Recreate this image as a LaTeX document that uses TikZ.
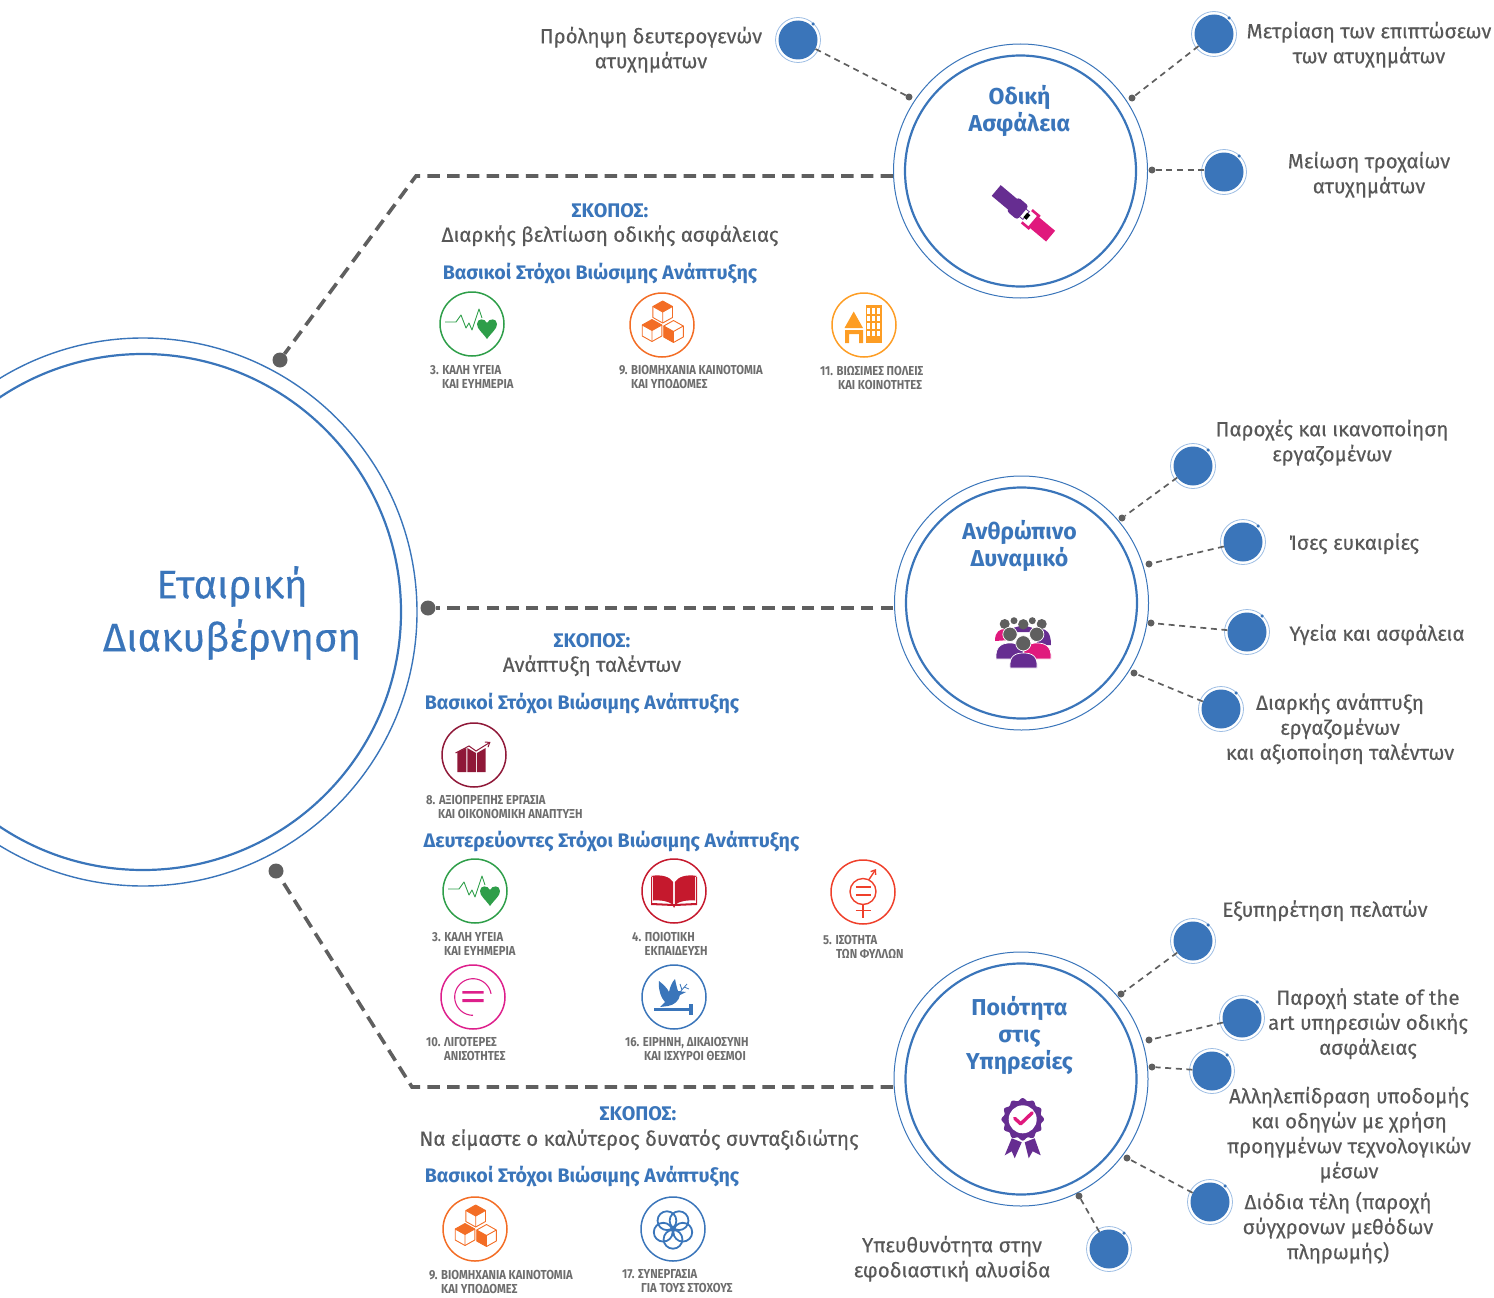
\documentclass[tikz,border=0pt]{standalone}
\usepackage{fontspec}
\setmainfont{Fira Sans}
\newfontfamily\smallf[FakeStretch=0.866]{Fira Sans}
\newfontfamily\labelf[FakeBold=0.25]{Fira Sans}
\usetikzlibrary{arrows.meta,calc}
\definecolor{mblue}{HTML}{3A75BA}
\definecolor{lblue}{HTML}{9DBDE3}
\definecolor{mgrey}{HTML}{5F5F5F}
\definecolor{tgrey}{HTML}{585858}
\definecolor{sgrey}{HTML}{6E6E6E}
\definecolor{sgreen}{HTML}{2E9E49}
\definecolor{sorange}{HTML}{F36D25}
\definecolor{samber}{HTML}{FD9D24}
\definecolor{smaroon}{HTML}{8F1838}
\definecolor{sred}{HTML}{C5192D}
\definecolor{sredor}{HTML}{EF402B}
\definecolor{smag}{HTML}{DD1F8B}
\definecolor{ppl}{HTML}{662D91}
\definecolor{pnk}{HTML}{E0197D}
\tikzset{
  x=1pt,y=-1pt,
  bigout/.style={circle,draw=mblue,line width=1.4pt,inner sep=0,minimum size=548pt},
  bigin/.style={circle,draw=mblue,line width=2.2pt,inner sep=0,minimum size=516pt},
  hubout/.style={circle,draw=mblue,line width=1pt,inner sep=0,minimum size=254pt},
  hubin/.style={circle,draw=mblue,line width=2.2pt,inner sep=0,minimum size=231pt},
  bullet/.style={circle,fill=mblue,inner sep=0,minimum size=39pt},
  halo/.style={circle,draw=lblue,line width=.8pt,inner sep=0,minimum size=45pt},
  pip/.style={circle,fill=mblue,inner sep=0,minimum size=3.5pt},
  enddot/.style={circle,fill=mgrey,inner sep=0,minimum size=#1},
  enddot/.default=7pt,
  thin dash/.style={draw=mgrey,line width=1.7pt,dash pattern=on 6pt off 4.6pt},
  thick dash/.style={draw=mgrey,line width=3.6pt,dash pattern=on 12.5pt off 7.2pt},
  label/.style={font=\fontsize{20.5}{25}\selectfont\labelf,text=tgrey,align=center,inner sep=0,yshift=-.7pt},
  title/.style={font=\fontsize{23}{27}\selectfont\bfseries,text=mblue,align=center,inner sep=0,yshift=-1.2pt},
  aim/.style={font=\fontsize{19.7}{23}\selectfont\bfseries,text=mblue,inner sep=0,yshift=-.7pt},
  goal/.style={font=\fontsize{19.6}{23}\selectfont\bfseries,text=mblue,inner sep=0,yshift=-1.2pt},
  tiny/.style={font=\fontsize{13}{13.4}\selectfont\smallf\bfseries,text=sgrey,align=left,anchor=west,inner sep=0},
  icring/.style={circle,line width=1.5pt,inner sep=0,minimum size=64pt},
}
\newcommand{\spot}[3]{%
  \node[halo] at (#2,#3) {};
  \node[bullet] (#1) at (#2,#3) {};
  \node[pip] at ($(#2,#3)+(15,-16)$) {};}
\newcommand{\icHeart}[2]{\begin{scope}[shift={(#1,#2)}]
  \node[icring,draw=sgreen] {};
  \draw[sgreen,line width=.9pt,line join=round] (-27,-2) -- (-16,-2) -- (-11,-9) -- (-6,4) -- (-3,-1) -- (0,6) -- (7,-15) -- (10,-6);
  \fill[sgreen] (15,15) .. controls (10,8) and (5,5) .. (5,0) .. controls (5,-6) and (13,-6) .. (15,-1) .. controls (17,-6) and (25,-6) .. (25,0) .. controls (25,5) and (20,8) .. (15,15);
\end{scope}}
\newcommand{\cube}[3]{\begin{scope}[shift={(#1,#2)}]
  \draw[sorange,line width=.9pt,fill=white,line join=round] (0,-11) -- (9.8,-5.5) -- (9.8,5.5) -- (0,11) -- (-9.8,5.5) -- (-9.8,-5.5) -- cycle;
  \draw[sorange,line width=.9pt] (-9.8,-5.5) -- (0,0) -- (9.8,-5.5) (0,0) -- (0,11);
  \ifnum#3=1 \fill[sorange] (0,-11) -- (9.8,-5.5) -- (0,0) -- (-9.8,-5.5) -- cycle;\fi
  \ifnum#3=2 \fill[sorange] (-9.8,-5.5) -- (0,0) -- (0,11) -- (-9.8,5.5) -- cycle;\fi
\end{scope}}
\newcommand{\icCubes}[2]{\begin{scope}[shift={(#1,#2)}]
  \node[icring,draw=sorange] {};
  \cube{0.7}{-13}{1}
  \cube{-10}{5.5}{1}
  \cube{11.5}{6.5}{2}
\end{scope}}
\newcommand{\icCity}[2]{\begin{scope}[shift={(#1,#2)}]
  \node[icring,draw=samber] {};
  \fill[samber] (-10.3,-13.5) -- (-19.5,3) -- (-1,3) -- cycle;
  \fill[samber] (-19,5) -- (-1,5) -- (-1,18) -- (-5,18) -- (-5,9) -- (-15,9) -- (-15,18) -- (-19,18) -- cycle;
  \fill[samber] (1.7,-20) rectangle (18.3,18);
  \foreach \r in {-17,-9.5,-2,5.5} \foreach \c in {4,9,14}
    \fill[white] (\c-1.4,\r) rectangle (\c+1.6,\r+5.8);
\end{scope}}
\newcommand{\icChart}[2]{\begin{scope}[shift={(#1,#2)}]
  \node[icring,draw=smaroon] {};
  \fill[smaroon] (-16.7,-3) -- (-7.7,-7) -- (-7.7,17) -- (-16.7,17) -- cycle;
  \fill[smaroon] (-6.7,-7) -- (2,-2) -- (2,17) -- (-6.7,17) -- cycle;
  \fill[smaroon] (3,-2) -- (11.7,-7) -- (11.7,17) -- (3,17) -- cycle;
  \draw[smaroon,line width=1pt,-{Straight Barb[length=4pt,width=6pt]}] (-18.5,-2) -- (-5,-9) -- (2,-4) -- (16.5,-13);
\end{scope}}
\newcommand{\icBook}[2]{\begin{scope}[shift={(#1,#2)}]
  \node[icring,draw=sred] {};
  \fill[sred] (-23,-15) .. controls (-12,-17) and (-4,-14) .. (-.8,-9) -- (-.8,14) .. controls (-5,10) and (-13,9) .. (-21,9.5) -- (-21,-14) -- cycle;
  \fill[sred] (23,-15) .. controls (12,-17) and (4,-14) .. (.8,-9) -- (.8,14) .. controls (5,10) and (13,9) .. (21,9.5) -- (21,-14) -- cycle;
  \fill[sred] (-23,-14) -- (-23,14) -- (-1,15) -- (0,17) -- (1,15) -- (23,14) -- (23,-14) -- (22,-14) -- (22,12) -- (1,13) -- (-1,13) -- (-22,12) -- (-22,-14) -- cycle;
\end{scope}}
\newcommand{\icGender}[2]{\begin{scope}[shift={(#1,#2)}]
  \node[icring,draw=sredor] {};
  \draw[sredor,line width=1.4pt] (0,-.5) circle (13);
  \draw[sredor,line width=1.6pt] (-7.5,-5) -- (7.5,-5) (-7.5,2.7) -- (7.5,2.7);
  \draw[sredor,line width=1.4pt,-{Straight Barb[length=4pt,width=6pt]}] (6,-12.5) -- (13,-23);
  \draw[sredor,line width=1.6pt] (0,12.5) -- (0,26) (-7.5,18.5) -- (7.5,18.5);
\end{scope}}
\newcommand{\icEqual}[2]{\begin{scope}[shift={(#1,#2)}]
  \node[icring,draw=smag] {};
  \draw[smag,line width=1.1pt] plot[domain=90:350,samples=40,smooth] (\x:18.3);
  \fill[smag] (-10.6,-6) rectangle (10.6,-3.4) (-10.6,2.2) rectangle (10.6,5);
\end{scope}}
\newcommand{\icDove}[2]{\begin{scope}[shift={(#1,#2)}]
  \node[icring,draw=mblue] {};
  \fill[mblue] (-20.5,11) rectangle (19,14);
  \fill[mblue] (14.5,7) rectangle (19,17.5);
  \fill[mblue] (-15,-16) .. controls (-10,-12) and (-7,-9) .. (-5,-5) .. controls (-4,-10) and (-2,-15) .. (1,-18) .. controls (2,-13) and (3,-9) .. (4,-6) -- (12,-5) -- (6,-2) .. controls (5,4) and (0,8) .. (-6,9) -- (-14,10) -- (-9,5) .. controls (-13,1) and (-16,-8) .. (-15,-16) -- cycle;
  \draw[mblue,line width=.8pt] (6,-5) -- (13,-13) (8,-7) -- (6,-13) (10,-10) -- (15,-8);
\end{scope}}
\newcommand{\icFlower}[2]{\begin{scope}[shift={(#1,#2)}]
  \node[icring,draw=mblue] {};
  \foreach \a in {90,162,234,306,18}
    \draw[mblue,line width=1.8pt] (\a:10.3) circle (9.4);
  \fill[mblue] (0,0) circle (2.6);
\end{scope}}
\begin{document}
\begin{tikzpicture}
\useasboundingbox (0,0) rectangle (1494,1298);
\clip (0,0) rectangle (1494,1298);
% big circle
\node[bigout] (B) at (143,612) {};
\node[bigin] (Bi) at (143,612) {};
\node[font=\fontsize{40}{53}\selectfont\labelf,text=mblue,align=center,inner sep=0,yshift=-1pt] (Btext) at (232,612) {Εταιρική\\Διακυβέρνηση};
% hubs
\node[hubout] (H1) at (1020.5,171) {};
\node[hubin] (H1i) at (1020.5,171) {};
\node[hubout] (H2) at (1021.5,603) {};
\node[hubin] (H2i) at (1021.5,603) {};
\node[hubout] (H3) at (1021,1079) {};
\node[hubin] (H3i) at (1021,1079) {};
\node[title] (T1) at (1019.5,110) {Οδική\\Ασφάλεια};
\node[title] (T2) at (1019.5,545) {Ανθρώπινο\\Δυναμικό};
\node[title] (T3) at (1019.5,1034) {Ποιότητα\\στις\\Υπηρεσίες};
% main connectors
\node[enddot=15pt] (M1) at (280,360) {};
\node[enddot=15pt] (M2) at (428,608) {};
\node[enddot=15pt] (M3) at (276,871) {};
\coordinate (K1) at (416,176);
\coordinate (K3) at (412,1087);
\coordinate (E1) at (893,176);
\coordinate (E2) at (893,608);
\coordinate (E3) at (893,1087);
\draw[thick dash] (E1) -- (K1) -- (M1);
\draw[thick dash] (E2) -- (M2);
\draw[thick dash] (E3) -- (K3) -- (M3);
% spots
\spot{S1}{798}{40}
\spot{S2}{1214}{34}
\spot{S3}{1224}{172}
\spot{S4}{1193}{466}
\spot{S5}{1243}{542}
\spot{S6}{1247}{632}
\spot{S7}{1221}{709}
\spot{S8}{1193}{941}
\spot{S9}{1242}{1018}
\spot{S10}{1212}{1071}
\spot{S11}{1210}{1202}
\spot{S12}{1109}{1249}
\node[enddot] (D1) at (909,97) {};
\node[enddot] (D2) at (1132,98) {};
\node[enddot] (D3) at (1152,170) {};
\node[enddot] (D4) at (1122,518) {};
\node[enddot] (D5) at (1149,564) {};
\node[enddot] (D6) at (1151,623) {};
\node[enddot] (D7) at (1134,673) {};
\node[enddot] (D8) at (1121,994) {};
\node[enddot] (D9) at (1149,1040) {};
\node[enddot] (D10) at (1152,1067) {};
\node[enddot] (D11) at (1127,1158) {};
\node[enddot] (D12) at (1079,1196) {};
\foreach \i in {1,2,4,5,6,7,8,9,10,11,12} \draw[thin dash] (S\i) -- (D\i);
\draw[thin dash] (D3) -- (D3 -| S3.west);
% spot labels
\node[label] (L1) at (651,49) {Πρόληψη δευτερογενών\\ατυχημάτων};
\node[label] (L2) at (1369,44) {Μετρίαση των επιπτώσεων\\των ατυχημάτων};
\node[label] (L3) at (1369,174) {Μείωση τροχαίων\\ατυχημάτων};
\node[label] (L4) at (1332,442) {Παροχές και ικανοποίηση\\εργαζομένων};
\node[label] (L5) at (1354,543) {Ίσες ευκαιρίες};
\node[label] (L6) at (1377,634) {Υγεία και ασφάλεια};
\node[label] (L7) at (1340,728) {Διαρκής ανάπτυξη\\εργαζομένων\\και αξιοποίηση ταλέντων};
\node[label] (L8) at (1325,910) {Εξυπηρέτηση πελατών};
\node[label] (L9) at (1368,1023) {Παροχή state of the\\art υπηρεσιών οδικής\\ασφάλειας};
\node[label] (L10) at (1349,1134) {Αλληλεπίδραση υποδομής\\και οδηγών με χρήση\\προηγμένων τεχνολογικών\\μέσων};
\node[label] (L11) at (1338,1227) {Διόδια τέλη (παροχή\\σύγχρονων μεθόδων\\πληρωμής)};
\node[label] (L12) at (952,1258) {Υπευθυνότητα στην\\εφοδιαστική αλυσίδα};
% aims
\node[aim] (A1) at (610,210) {ΣΚΟΠΟΣ:};
\node[label] (A1t) at (610,235) {Διαρκής βελτίωση οδικής ασφάλειας};
\node[goal] (G1) at (600,272) {Βασικοί Στόχοι Βιώσιμης Ανάπτυξης};
\node[aim] (A2) at (592,640) {ΣΚΟΠΟΣ:};
\node[label] (A2t) at (592,665) {Ανάπτυξη ταλέντων};
\node[goal] (G2) at (582,702) {Βασικοί Στόχοι Βιώσιμης Ανάπτυξης};
\node[goal] (G2b) at (611.5,840) {Δευτερεύοντες Στόχοι Βιώσιμης Ανάπτυξης};
\node[aim] (A3) at (638,1113) {ΣΚΟΠΟΣ:};
\node[label] (A3t) at (639,1139) {Να είμαστε ο καλύτερος δυνατός συνταξιδιώτης};
\node[goal] (G3) at (582,1175) {Βασικοί Στόχοι Βιώσιμης Ανάπτυξης};
% goal icons
\icHeart{472}{324}
\icCubes{662}{325}
\icCity{864}{325}
\icChart{474}{755}
\icHeart{475}{891}
\icBook{674}{891}
\icGender{863}{892}
\icEqual{473}{997}
\icDove{674}{997}
\icCubes{475}{1229}
\icFlower{673}{1229}
% goal captions
\node[tiny] (C1) at (430,377) {3. ΚΑΛΗ ΥΓΕΙΑ\\\hspace*{12pt}ΚΑΙ ΕΥΗΜΕΡΙΑ};
\node[tiny] (C2) at (619,377) {9. ΒΙΟΜΗΧΑΝΙΑ ΚΑΙΝΟΤΟΜΙΑ\\\hspace*{12pt}ΚΑΙ ΥΠΟΔΟΜΕΣ};
\node[tiny] (C3) at (820,378) {11. ΒΙΩΣΙΜΕΣ ΠΟΛΕΙΣ\\\hspace*{18pt}ΚΑΙ ΚΟΙΝΟΤΗΤΕΣ};
\node[tiny] (C4) at (426,807) {8. ΑΞΙΟΠΡΕΠΗΣ ΕΡΓΑΣΙΑ\\\hspace*{12pt}ΚΑΙ ΟΙΚΟΝΟΜΙΚΗ ΑΝΑΠΤΥΞΗ};
\node[tiny] (C5) at (432,944) {3. ΚΑΛΗ ΥΓΕΙΑ\\\hspace*{12pt}ΚΑΙ ΕΥΗΜΕΡΙΑ};
\node[tiny] (C6) at (632,944) {4. ΠΟΙΟΤΙΚΗ\\\hspace*{12.5pt}ΕΚΠΑΙΔΕΥΣΗ};
\node[tiny] (C7) at (823,947) {5. ΙΣΟΤΗΤΑ\\\hspace*{13pt}ΤΩΝ ΦΥΛΛΩΝ};
\node[tiny] (C8) at (426,1049) {10. ΛΙΓΟΤΕΡΕΣ\\\hspace*{18pt}ΑΝΙΣΟΤΗΤΕΣ};
\node[tiny] (C9) at (625,1049) {16. ΕΙΡΗΝΗ, ΔΙΚΑΙΟΣΥΝΗ\\\hspace*{19pt}ΚΑΙ ΙΣΧΥΡΟΙ ΘΕΣΜΟΙ};
\node[tiny] (C10) at (429,1282) {9. ΒΙΟΜΗΧΑΝΙΑ ΚΑΙΝΟΤΟΜΙΑ\\\hspace*{12pt}ΚΑΙ ΥΠΟΔΟΜΕΣ};
\node[tiny] (C11) at (622,1281) {17. ΣΥΝΕΡΓΑΣΙΑ\\\hspace*{19pt}ΓΙΑ ΤΟΥΣ ΣΤΟΧΟΥΣ};
% seat belt
\begin{scope}[shift={(1023,213)},rotate=-40]
  \fill[ppl] (-35,-7) rectangle (-13,7);
  \fill[ppl,rounded corners=3pt] (-14,-9) rectangle (0,9);
  \draw[pnk,line width=2.6pt] (5,-8) -- (14,-8) -- (14,8) -- (5,8);
  \fill[pnk] (14,-7) rectangle (36,7);
  \draw[ppl,line width=.8pt] (0,-5) -- (4,-5) -- (4,5) -- (0,5);
  \fill[black] (3,-3) rectangle (7,3);
\end{scope}
% people
\begin{scope}
  \fill[pnk] (995,641) .. controls (995,631) and (1000,629) .. (1006,629) -- (1010,640) -- cycle;
  \fill[ppl] (1051,645) .. controls (1051,632) and (1046,629) .. (1041,629) -- (1036,645) -- cycle;
  \fill[ppl] (1010,632) .. controls (1012,624) and (1034,624) .. (1036,632) -- cycle;
  \fill[mgrey] (1014,620.7) circle (3.5);
  \fill[mgrey] (1032.3,620.7) circle (3.5);
  \fill[mgrey] (1004.7,624) circle (5);
  \fill[mgrey] (1041.7,624) circle (5);
  \fill[mgrey] (1023.3,624.3) circle (5.2);
  \fill[ppl,draw=white,line width=.7pt] (996,659) .. controls (995,646) and (1002,643) .. (1010,643) .. controls (1018,643) and (1024,646) .. (1024,659) -- cycle;
  \fill[pnk,draw=white,line width=.7pt] (1051,659) .. controls (1052,646) and (1045,643) .. (1037,643) .. controls (1029,643) and (1023,646) .. (1023,659) -- cycle;
  \fill[mgrey,draw=white,line width=.7pt] (1010,634.3) circle (7.2);
  \fill[mgrey,draw=white,line width=.7pt] (1036.7,634.3) circle (7.2);
  \fill[ppl,draw=white,line width=.7pt] (1010,668) .. controls (1009,656) and (1015,653) .. (1023.5,653) .. controls (1032,653) and (1038,656) .. (1037,668) -- cycle;
  \fill[mgrey,draw=white,line width=.7pt] (1023.3,643.3) circle (7.6);
\end{scope}
% rosette
\begin{scope}[shift={(1022.7,1119.3)}]
  \fill[ppl] (-11,19) -- (-1,23) -- (-8,39) -- (-11,32) -- (-18,36) -- cycle;
  \fill[ppl] (2,23) -- (12,19) -- (18,36) -- (10,32) -- (6,39) -- cycle;
  \fill[ppl] plot[domain=0:360,samples=97,smooth] (\x:{20+1.3*cos(12*\x)}) -- cycle;
  \fill[white] (0,0) circle (14);
  \draw[pnk,line width=3.4pt,line cap=round,line join=round] (-8,-1) -- (-2,4.5) -- (9.5,-6.5);
\end{scope}
\end{tikzpicture}
\end{document}
